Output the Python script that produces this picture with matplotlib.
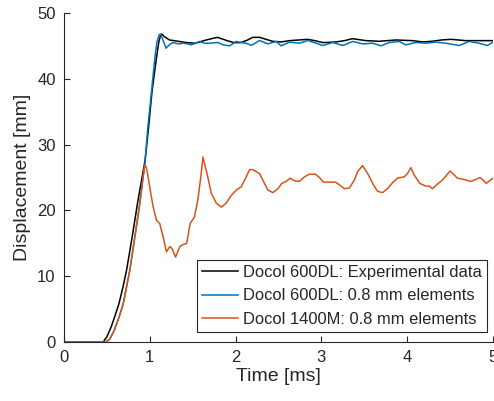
import matplotlib
matplotlib.use("Agg")
import matplotlib.pyplot as plt

plt.rcParams['font.family'] = ['Liberation Sans', 'DejaVu Sans']

# Docol 600DL: Experimental data
exp_t = [0.0, 0.457, 0.50, 0.55, 0.60, 0.64, 0.69, 0.729, 0.795, 0.857, 0.915, 0.945, 0.985,
         1.025, 1.077, 1.105, 1.125, 1.14, 1.17, 1.23, 1.33, 1.43, 1.53, 1.63, 1.72, 1.79,
         1.9, 1.98, 2.06, 2.14, 2.2, 2.28, 2.43, 2.53, 2.63, 2.74, 2.84, 2.92, 3.02, 3.17,
         3.27, 3.36, 3.52, 3.67, 3.77, 3.87, 4.06, 4.18, 4.29, 4.40, 4.51, 4.68, 4.85, 5.0]
exp_y = [0.0, 0.0, 0.8, 2.3, 4.2, 5.8, 8.5, 10.9, 16.0, 21.1, 25.4, 27.6, 32.5,
         38.0, 43.1, 45.6, 46.6, 46.8, 46.4, 45.9, 45.7, 45.5, 45.4, 45.8, 46.1, 46.3,
         45.8, 45.5, 45.5, 45.9, 46.3, 46.3, 45.7, 45.6, 45.8, 45.9, 46.0, 45.8, 45.5, 45.6,
         45.8, 46.1, 45.8, 45.7, 45.8, 45.9, 45.8, 45.6, 45.7, 45.9, 46.0, 45.8, 45.8, 45.8]

# Docol 600DL: 0.8 mm elements
dl_t = [0.0, 0.49, 0.53, 0.58, 0.64, 0.69, 0.767, 0.826, 0.884, 0.922, 0.942, 0.965, 0.98,
        1.02, 1.058, 1.085, 1.11, 1.125, 1.15, 1.19, 1.23, 1.271, 1.33, 1.388, 1.44, 1.485,
        1.581, 1.64, 1.698, 1.795, 1.853, 1.930, 2.008, 2.07, 2.124, 2.182, 2.279, 2.376,
        2.473, 2.531, 2.628, 2.744, 2.841, 2.938, 3.016, 3.132, 3.248, 3.364, 3.481, 3.597,
        3.694, 3.791, 3.907, 3.985, 4.101, 4.217, 4.333, 4.450, 4.605, 4.721, 4.837, 4.934,
        4.992]
dl_y = [0.0, 0.0, 0.4, 1.6, 3.7, 5.8, 10.9, 16.0, 21.1, 25.1, 26.9, 30.7, 33.0,
        38.1, 43.1, 45.7, 46.7, 46.8, 46.0, 44.65, 45.2, 45.52, 45.3, 45.41, 45.3, 45.16,
        45.67, 45.4, 45.41, 45.52, 45.16, 45.01, 45.67, 45.5, 45.41, 45.06, 45.82, 45.31,
        45.67, 45.01, 45.57, 45.41, 45.82, 45.41, 45.06, 45.52, 45.06, 45.67, 45.31, 45.41,
        45.01, 45.52, 45.67, 45.16, 45.52, 45.41, 45.57, 45.41, 45.06, 45.67, 45.41, 45.06,
        45.52]

# Docol 1400M: 0.8 mm elements
m_t = [0.0, 0.49, 0.53, 0.58, 0.64, 0.69, 0.767, 0.826, 0.884, 0.922, 0.935, 0.945, 0.96,
       0.98, 1.01, 1.04, 1.078, 1.116, 1.155, 1.194, 1.233, 1.26, 1.30, 1.35, 1.387, 1.43,
       1.47, 1.52, 1.56, 1.59, 1.62, 1.64, 1.667, 1.717, 1.775, 1.833, 1.89, 1.95, 2.01,
       2.066, 2.124, 2.163, 2.2, 2.279, 2.337, 2.376, 2.434, 2.492, 2.539, 2.589, 2.636,
       2.686, 2.744, 2.802, 2.86, 2.93, 2.977, 3.023, 3.093, 3.163, 3.209, 3.267, 3.326,
       3.384, 3.422, 3.48, 3.54, 3.597, 3.655, 3.713, 3.77, 3.829, 3.887, 3.965, 4.003,
       4.043, 4.081, 4.147, 4.217, 4.256, 4.294, 4.352, 4.41, 4.45, 4.5, 4.547, 4.585,
       4.663, 4.74, 4.799, 4.849, 4.884, 4.922, 4.96, 5.0]
m_y = [0.0, 0.0, 0.4, 1.6, 3.7, 5.8, 10.9, 16.0, 21.1, 25.1, 26.4, 26.9, 26.5,
       25.1, 22.7, 20.5, 18.5, 18.0, 16.0, 13.7, 14.5, 14.2, 12.9, 14.5, 14.8, 15.0,
       18.0, 19.0, 21.6, 24.6, 28.1, 27.0, 25.6, 22.6, 21.1, 20.5, 21.1, 22.3, 23.1,
       23.6, 25.1, 26.2, 26.2, 25.6, 24.1, 23.1, 22.7, 23.3, 24.1, 24.4, 24.9,
       24.5, 24.4, 25.1, 25.5, 25.5, 25.0, 24.3, 24.3, 24.3, 23.9, 23.3, 23.4,
       24.6, 25.9, 26.8, 25.6, 24.1, 22.9, 22.7, 23.3, 24.2, 24.9, 25.1, 25.6,
       26.5, 25.4, 24.1, 23.7, 23.7, 23.3, 24.0, 24.6, 25.2, 26.0, 25.4, 24.9,
       24.7, 24.4, 24.7, 25.0, 24.6, 24.1, 24.5, 24.9]

labels = ["Docol 600DL: Experimental data",
          "Docol 600DL: 0.8 mm elements",
          "Docol 1400M: 0.8 mm elements"]
x_ticks = [0, 1, 2, 3, 4, 5]
y_ticks = [0, 10, 20, 30, 40, 50]

axc = (0.15, 0.15, 0.15)
fig = plt.figure(figsize=(4.94, 4.01), dpi=100)
ax = fig.add_axes([64/494, 1 - 342/401, 429/494, 329/401])
ax.plot(exp_t, exp_y, color='black', lw=1.1, label=labels[0])
ax.plot(dl_t, dl_y, color=(0.0, 0.447, 0.741), lw=1.1, label=labels[1])
ax.plot(m_t, m_y, color=(0.85, 0.325, 0.098), lw=1.1, label=labels[2])

ax.set_xlim(0, 5)
ax.set_ylim(0, 50)
ax.set_xticks(x_ticks)
ax.set_yticks(y_ticks)
ax.spines['top'].set_visible(False)
ax.spines['right'].set_visible(False)
for s in ('left', 'bottom'):
    ax.spines[s].set_color(axc)
    ax.spines[s].set_linewidth(0.8)
ax.tick_params(direction='in', length=4, width=0.8, colors=axc, labelsize=12, pad=6)
for lab in ax.get_xticklabels() + ax.get_yticklabels():
    lab.set_color(axc)
ax.set_xlabel("Time [ms]", fontsize=14, color=axc, labelpad=2)
ax.set_ylabel("Displacement [mm]", fontsize=14, color=axc, labelpad=4)

leg = ax.legend(loc='lower right', bbox_to_anchor=(0.9853, 0.0313), borderaxespad=0,
                fontsize=11.9, fancybox=False, framealpha=1, edgecolor=axc,
                handlelength=2.2, handletextpad=0.3, labelspacing=0.5, borderpad=0.3)
leg.get_frame().set_linewidth(0.8)
for t in leg.get_texts():
    t.set_color(axc)

fig.savefig("out.png", dpi=100)
